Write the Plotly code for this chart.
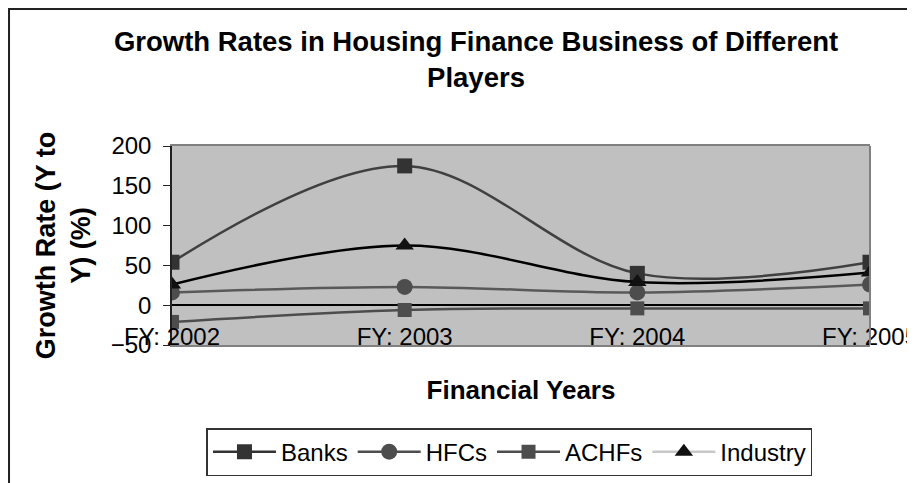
import plotly.graph_objects as go

years = ["FY: 2002", "FY: 2003", "FY: 2004", "FY: 2005"]
banks = [54, 175, 40, 54]
hfcs = [16, 23, 16, 26]
achfs = [-21, -6, -4, -4]
industry = [26, 75, 29, 41]

series = [
    ("Banks", banks, "#333333", "#404040", "square", 15),
    ("HFCs", hfcs, "#4d4d4d", "#595959", "circle", 16),
    ("ACHFs", achfs, "#4d4d4d", "#4d4d4d", "square", 14),
    ("Industry", industry, "#111111", "#000000", "triangle-up", 16),
]
legend_line = {"Banks": "#333333", "HFCs": "#4d4d4d", "ACHFs": "#4d4d4d", "Industry": "#c8c8c8"}

fig = go.Figure()
for name, vals, mcol, lcol, sym, size in series:
    fig.add_trace(go.Scatter(
        x=years, y=vals, mode="lines+markers", name=name, showlegend=False,
        line=dict(color=lcol, width=2.5, shape="spline", smoothing=1),
        marker=dict(symbol=sym, size=size, color=mcol, line=dict(width=0)),
    ))
for name, vals, mcol, lcol, sym, size in series:
    fig.add_trace(go.Scatter(
        x=[None], y=[None], mode="lines+markers", name=name,
        line=dict(color=legend_line[name], width=2.5),
        marker=dict(symbol=sym, size=size, color=mcol, line=dict(width=0)),
    ))

font = "Liberation Sans, Arial, sans-serif"
fig.update_layout(
    width=907, height=475,
    margin=dict(l=164, r=45, t=138, b=138, autoexpand=False),
    paper_bgcolor="white", plot_bgcolor="#c0c0c0",
    font=dict(family=font, size=24, color="black"),
    title=dict(text="<b>Growth Rates in Housing Finance Business of Different<br>Players</b>",
               x=0.516, xanchor="center", y=0.909, yanchor="middle",
               font=dict(size=27.5)),
    xaxis=dict(type="category", range=[0, 3], showgrid=False, zeroline=False,
               showline=True, linecolor="#808080", linewidth=2, mirror=True,
               ticks="", ticklabelstandoff=-31, ticklabeloverflow="allow", automargin=False,
               title=dict(text="<b>Financial Years</b>", font=dict(size=26), standoff=32),
               tickfont=dict(size=24)),
    yaxis=dict(range=[-50, 200], tickvals=[-50, 0, 50, 100, 150, 200],
               showgrid=False, zeroline=True, zerolinecolor="black", zerolinewidth=1.5,
               showline=True, linecolor="#222222", linewidth=1.5, automargin=False,
               ticks="outside", ticklen=7, tickcolor="#222222", ticklabelstandoff=7,
               title=dict(text="<b>Growth Rate (Y to<br>Y) (%)</b>", font=dict(size=27), standoff=12),
               tickfont=dict(size=24)),
    legend=dict(orientation="h", x=0.4835, xanchor="center", y=-0.538, yanchor="middle",
                bordercolor="#333333", borderwidth=1.5, bgcolor="white",
                font=dict(size=24), itemwidth=63, tracegroupgap=0),
    shapes=[
        dict(type="rect", xref="paper", yref="paper", x0=-0.2335, x1=1.1, y0=-0.9, y1=1.688,
             line=dict(color="#222222", width=2), fillcolor="rgba(0,0,0,0)", layer="below"),
        dict(type="line", xref="paper", yref="paper", x0=1, x1=1, y0=0, y1=1,
             line=dict(color="#808080", width=2)),
    ],
)
fig.write_html("out.html")
